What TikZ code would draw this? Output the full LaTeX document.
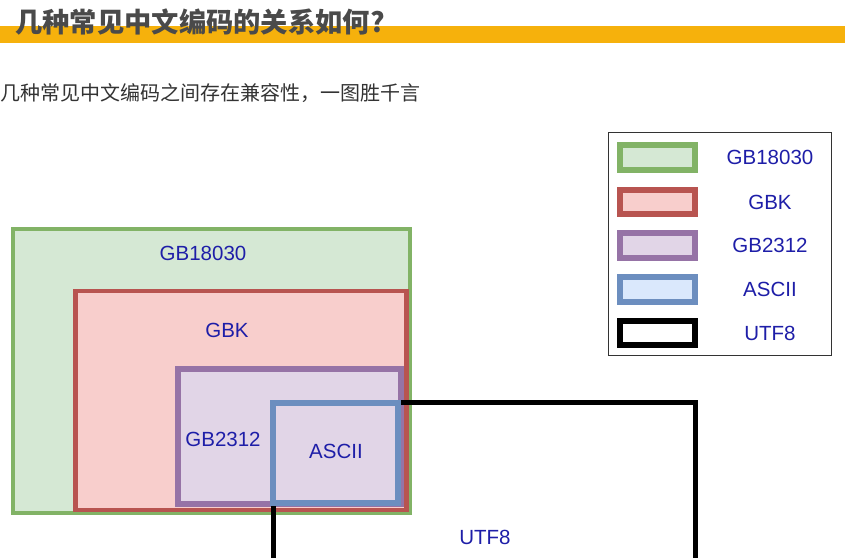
\documentclass[tikz,border=0pt]{standalone}
\usepackage{fontspec}
\setmainfont{Liberation Sans}
\newfontfamily\cjk{Noto Sans CJK SC}

\definecolor{barorange}{HTML}{F6B10C}
\definecolor{titlegray}{HTML}{4A4A4A}
\definecolor{subgray}{HTML}{333333}
\definecolor{labelblue}{HTML}{1E1EA8}
\definecolor{grnline}{HTML}{82B366}
\definecolor{grnfill}{HTML}{D5E8D4}
\definecolor{redline}{HTML}{B85450}
\definecolor{redfill}{HTML}{F8CECC}
\definecolor{purline}{HTML}{9673A6}
\definecolor{purfill}{HTML}{E1D5E7}
\definecolor{bluline}{HTML}{6C8EBF}
\definecolor{blufill}{HTML}{DAE8FC}

\tikzset{
  encbox/.style={draw, rectangle, inner sep=0pt},
  gbA/.style={encbox, draw=grnline, fill=grnfill},
  gbB/.style={encbox, draw=redline, fill=redfill},
  gbC/.style={encbox, draw=purline, fill=purfill},
  gbD/.style={encbox, draw=bluline, fill=blufill},
  gbE/.style={encbox, draw=black, fill=white},
  swatch/.style={minimum width=75pt, minimum height=24.5pt, line width=6pt},
  enclabel/.style={text=labelblue, inner sep=0pt, font=\fontsize{20.5}{24}\selectfont},
}

\begin{document}
\begin{tikzpicture}[x=1pt,y=-1pt]
\clip (0,0) rectangle (845,557);
\fill[white] (0,0) rectangle (845,557);

% Title and subtitle
\fill[barorange] (0,26) rectangle (845,43);
\node[anchor=west, inner sep=0pt, text=titlegray, font=\cjk\bfseries\fontsize{27.3}{32}\selectfont] (title) at (15,22) {几种常见中文编码的关系如何?};
\node[anchor=west, inner sep=0pt, text=subgray, font=\cjk\fontsize{20}{24}\selectfont] (subtitle) at (0,93) {几种常见中文编码之间存在兼容性，一图胜千言};

% Nested encodings
\node[gbA, line width=4pt, minimum width=397pt, minimum height=284pt] (gb18030) at (211.5,371) {};
\node[enclabel] (gb18030-lbl) at (203,253) {GB18030};
\node[gbB, line width=4.5pt, minimum width=331pt, minimum height=219pt] (gbk) at (241,400.5) {};
\node[enclabel] (gbk-lbl) at (227,330) {GBK};
\node[gbC, line width=5.5pt, minimum width=223pt, minimum height=135pt] (gb2312) at (289.5,436.5) {};
\node[enclabel] (gb2312-lbl) at (223,439) {GB2312};
\node[gbE, fill=none, line width=5pt, minimum width=422pt, minimum height=198pt] (utf8) at (484,501) {};
\node[enclabel] (utf8-lbl) at (485,537) {UTF8};
\node[gbD, fill=none, line width=6pt, minimum width=125pt, minimum height=100pt] (ascii) at (335.5,453) {};
\node[enclabel] (ascii-lbl) at (336,451) {ASCII};

% Legend
\node[draw=subgray, line width=1pt, minimum width=223pt, minimum height=223pt] (legend) at (719.5,243.5) {};
\foreach \enc/\sty/\yy in {GB18030/gbA/157.5, GBK/gbB/202, GB2312/gbC/245.5, ASCII/gbD/289.5, UTF8/gbE/333}{
  \node[\sty, swatch] (sw-\enc) at (657.5,\yy) {};
  \node[enclabel] (lg-\enc) at (770,\yy) {\enc};
}

\end{tikzpicture}
\end{document}
